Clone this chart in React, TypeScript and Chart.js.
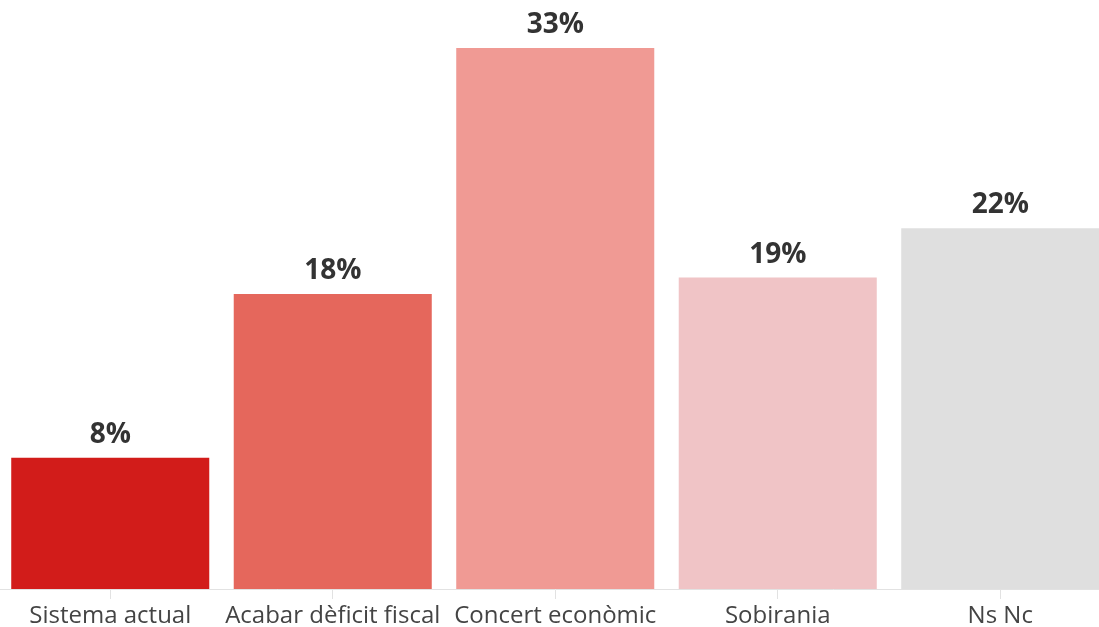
import React, { useEffect, useRef } from "react";
import { Chart, registerables } from "chart.js";

Chart.register(...registerables);

const categories = ["Sistema actual", "Acabar dèficit fiscal", "Concert econòmic", "Sobirania", "Ns Nc"];
const values = [8, 18, 33, 19, 22];
const barColors = ["#d21c1a", "#e5675c", "#f09a94", "#f0c4c6", "#dfdfdf"];

const FONT = "'Open Sans', sans-serif";

const valueLabels = {
  id: "valueLabels",
  afterDatasetsDraw(chart: any) {
    const ctx = chart.ctx;
    const meta = chart.getDatasetMeta(0);
    ctx.save();
    ctx.font = `bold 28px ${FONT}`;
    ctx.fillStyle = "#333333";
    ctx.textAlign = "center";
    ctx.textBaseline = "alphabetic";
    meta.data.forEach((bar: any, i: number) => {
      ctx.fillText(values[i] + "%", bar.x, bar.y - 15);
    });
    ctx.restore();
  },
};

export default function App() {
  const ref = useRef<HTMLCanvasElement | null>(null);
  useEffect(() => {
    if (!ref.current) return;
    const chart = new Chart(ref.current, {
      type: "bar",
      data: {
        labels: categories,
        datasets: [
          {
            data: values,
            backgroundColor: barColors,
            borderWidth: 0,
            barPercentage: 0.89,
            categoryPercentage: 1,
          },
        ],
      },
      options: {
        animation: false,
        responsive: true,
        maintainAspectRatio: false,
        layout: { padding: { top: 48, left: 0, right: 0, bottom: 0 } },
        plugins: { legend: { display: false }, tooltip: { enabled: false } },
        scales: {
          y: { display: false, min: 0, max: 33 },
          x: {
            afterFit(scale: any) {
              scale.height = 38;
            },
            grid: {
              display: true,
              drawOnChartArea: false,
              drawTicks: true,
              tickLength: 10,
              color: "#e2e2e2",
              offset: false,
            },
            border: { display: true, color: "#e2e2e2", width: 1 },
            ticks: {
              color: "#444444",
              padding: 3,
              maxRotation: 0,
              autoSkip: false,
              font: { family: FONT, size: 24 },
            },
          },
        },
      },
      plugins: [valueLabels],
    });
    return () => chart.destroy();
  }, []);
  return (
    <div style={{ position: "fixed", left: 0, top: 0, width: 1099, height: 627, overflow: "hidden", background: "#fff" }}>
      <div style={{ position: "absolute", left: -1.25, top: 0, width: 1112.5, height: 627 }}>
        <canvas ref={ref} />
      </div>
    </div>
  );
}
